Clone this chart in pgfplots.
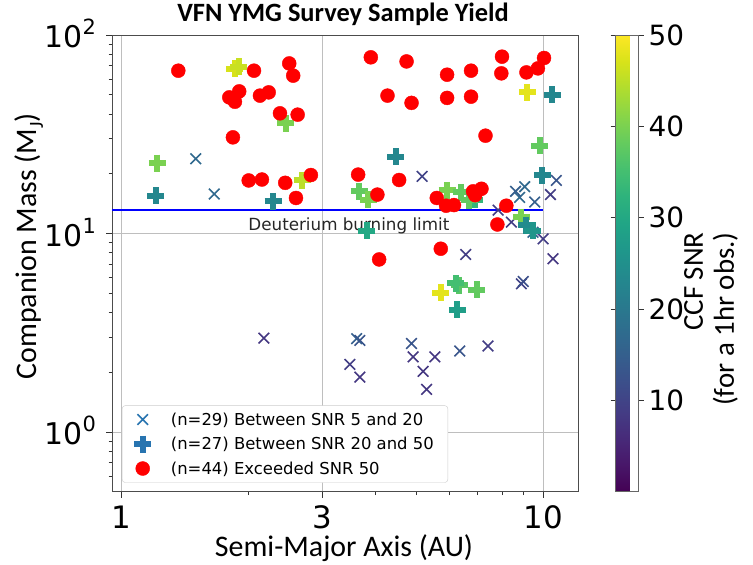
\documentclass[border=0pt]{standalone}
\usepackage{pgfplots}
\pgfplotsset{compat=1.18}
\usepackage{fontspec}
\setmainfont{DejaVu Sans}
\newfontfamily\carlito{Carlito}
\definecolor{gridgray}{RGB}{190,190,190}
\definecolor{legblue}{RGB}{40,116,176}
\newcommand{\sups}[1]{\raisebox{0.45em}{\fontsize{21}{21}\selectfont #1}}
\begin{document}
\begin{tikzpicture}
\begin{axis}[
  name=main,
  scale only axis, width=466bp, height=456.7bp,
  xmode=log, ymode=log,
  xmin=0.948, xmax=12.1, ymin=0.5, ymax=100,
  xtick={1,3,10}, xticklabels={1,3,10},
  minor xtick={2,4,5,6,7,8,9},
  ytick={1,10,100}, yticklabels={10\sups{0},10\sups{1},10\sups{2}},
  minor ytick={0.6,0.7,0.8,0.9,2,3,4,5,6,7,8,9,20,30,40,50,60,70,80,90},
  xtick pos=bottom, ytick pos=left, tick align=outside,
  major tick length=6bp, minor tick length=3.5bp,
  every tick/.style={black!80, line width=0.8bp},
  grid=major, major grid style={gridgray, line width=0.9bp},
  axis line style={black!70, line width=0.9bp},
  xticklabel style={font=\fontsize{31}{31}\selectfont, anchor=base, inner sep=0pt, yshift=-31bp},
  yticklabel style={font=\fontsize{30}{30}\selectfont, anchor=base east, inner sep=0pt, xshift=-10bp, yshift=-13bp},
  colormap/viridis,
  point meta min=0, point meta max=50,
  colorbar right,
  colorbar style={
    scale only axis, width=23bp, height=456.7bp,
    at={(parent axis.north east)}, anchor=north west, xshift=29bp,
    ytick={10,20,30,40,50}, yticklabels={10,20,30,40,50},
    yticklabel style={font=\fontsize{28}{28}\selectfont, anchor=west, inner sep=0pt, xshift=5bp},
    major tick length=5bp, tick align=outside,
    every tick/.style={black!80, line width=0.8bp},
    axis line style={black!60, line width=0.8bp},
  },
  legend style={at={(axis description cs:0.0215,0.0197)}, anchor=south west,
    draw=black!20, rounded corners=3bp, fill=white,
    font=\fontsize{16.5}{16.5}\selectfont,
    row sep=6.5bp, inner xsep=12bp, inner ysep=5bp},
  legend cell align=left,
]
\addplot[scatter, only marks, mark=x, mark size=7.5bp, point meta=explicit,
  scatter/use mapped color={draw=mapped color},
  mark options={line width=1.6bp},
  legend image code/.code={\draw[legblue, line width=1.6bp] plot[only marks, mark=x, mark size=7.5bp] coordinates {(7bp,0bp)};\path (0bp,0bp) (33bp,0bp);}]
  table[x=a, y=m, meta=s] {
a m s
1.498 23.8 17
1.658 15.8 17
5.16 19.4 10
2.175 2.97 8
10.75 18.5 13
9.04 17.2 17
10.41 15.7 9
8.80 15.2 17
9.55 14.4 15
7.82 13.1 9
8.41 11.4 9
9.46 10.15 16
10.0 9.40 9
10.56 7.46 8
6.55 7.84 9
8.88 5.58 10
8.97 5.73 12
3.61 2.95 15
3.674 2.89 13
3.478 2.19 9
3.674 1.89 8
4.872 2.79 13
4.914 2.39 8
5.533 2.39 8
5.19 2.02 8
5.29 1.64 8
6.34 2.56 13
7.40 2.71 9
8.6 16.3 15
};
\addlegendentry{(n=29) Between SNR 5 and 20}
\addplot[scatter, only marks, mark=+, mark size=8.5bp, point meta=explicit,
  scatter/use mapped color={draw=mapped color},
  mark options={line width=6bp},
  legend image code/.code={\draw[legblue, line width=6bp] plot[only marks, mark=+, mark size=8.5bp] coordinates {(7bp,0bp)};\path (0bp,0bp) (33bp,0bp);}]
  table[x=a, y=m, meta=s] {
a m s
1.856 67.5 47
1.897 69.3 46
2.453 35.9 40
1.215 22.6 40
2.681 18.5 45
1.204 15.5 23
2.288 14.5 23
9.18 51.4 48
10.52 50.1 23
9.82 27.7 38
4.465 24.4 23
9.96 19.6 23
3.66 16.3 38
3.845 14.8 40
5.917 16.5 40
6.40 16.1 38
6.88 14.8 33
6.68 14.7 38
8.88 12.1 40
9.13 10.97 24
9.45 10.35 26
3.81 10.35 30
5.717 5.03 48
6.32 5.47 37
6.21 5.60 35
6.95 5.21 38
6.26 4.13 28
};
\addlegendentry{(n=27) Between SNR 20 and 50}
\addplot[only marks, mark=*, mark size=7bp, color=red, mark options={draw=none, fill=red},
  legend image code/.code={\path[fill=red] (7bp,0bp) circle (7bp);\path (0bp,0bp) (33bp,0bp);}]
  table[x=a, y=m] {
a m
1.362 66.1
2.06 66.1
2.497 71.9
2.552 62.4
1.900 52.0
1.800 48.5
1.856 46.1
2.128 49.5
2.232 51.4
2.374 40.3
2.615 39.7
1.836 30.5
2.001 18.5
2.151 18.7
2.443 18.0
2.811 19.7
2.591 15.1
3.901 77.2
4.742 73.6
7.99 77.8
10.05 76.6
5.917 63.1
6.745 66.1
7.96 64.1
9.13 64.8
9.72 67.9
4.273 49.5
4.872 45.5
5.917 48.2
6.745 48.9
7.30 31.1
3.64 19.8
4.553 18.6
4.043 15.7
5.593 15.1
5.885 13.8
6.145 13.9
6.82 16.3
7.14 16.8
8.18 13.8
7.79 11.1
5.717 8.38
4.082 7.40
6.90 15.6
};
\addlegendentry{(n=44) Exceeded SNR 50}
\addplot[blue, line width=2bp, forget plot] coordinates {(0.948,13.1) (10,13.1)};
\node[anchor=base, font=\fontsize{16.8}{16.8}\selectfont, text=black!85] at (axis cs:3.46,10.35) {Deuterium burning limit};
\end{axis}
\node[anchor=base, font=\carlito\bfseries\fontsize{26.5}{26.5}\selectfont] at ([yshift=13bp, xshift=-2bp]main.north) {VFN YMG Survey Sample Yield};
\node[rotate=90, anchor=base, font=\carlito\fontsize{30}{30}\selectfont] at ([xshift=-75bp, yshift=17bp]main.west) {Companion Mass (M\raisebox{-0.2em}{\fontsize{20}{20}\selectfont J})};
\node[anchor=base, font=\carlito\fontsize{30}{30}\selectfont] at ([yshift=-64.3bp, xshift=-1bp]main.south) {Semi-Major Axis (AU)};
\node[rotate=90, align=right, anchor=east, inner sep=0pt, font=\carlito\fontsize{29}{31}\selectfont] at ([xshift=133bp, yshift=31bp]main.east) {CCF SNR\\(for a 1hr obs.)};
\pgfresetboundingbox
\path ([xshift=-112bp, yshift=-73.3bp]main.south west) rectangle ++(753bp,565bp);
\end{tikzpicture}
\end{document}
